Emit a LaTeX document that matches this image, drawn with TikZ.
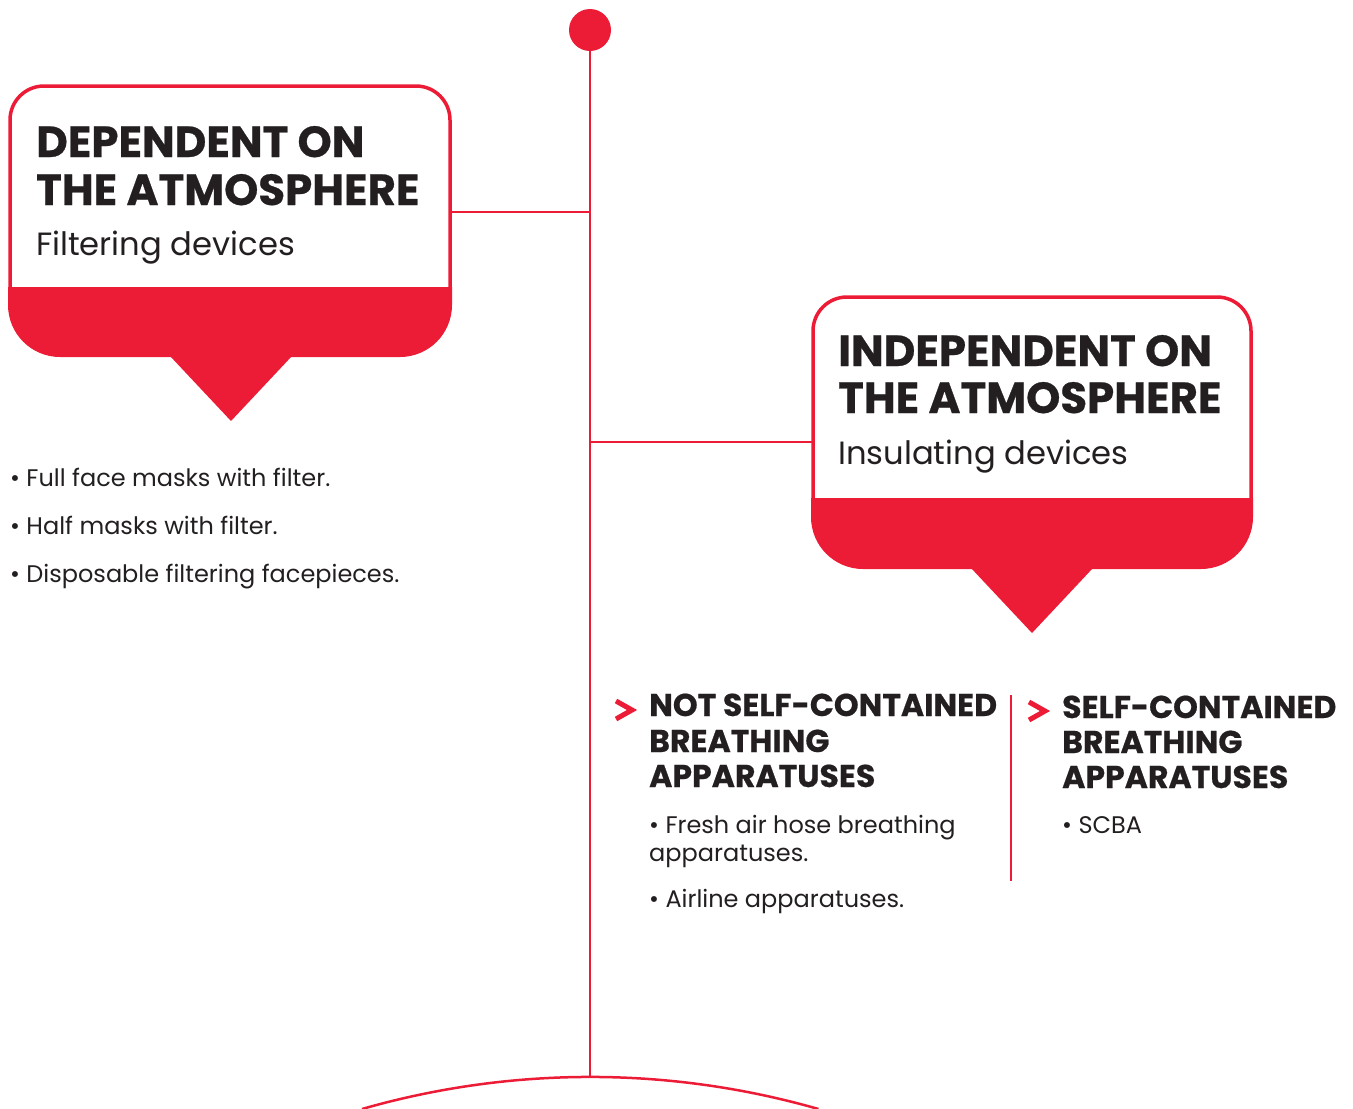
\documentclass[tikz,border=0pt]{standalone}
\usepackage{fontspec}
\setmainfont{Poppins}
\newfontfamily\heavyfont{Poppins}[FakeBold=0.6]
\definecolor{brand}{RGB}{237,28,54}
\definecolor{ink}{RGB}{35,31,32}

\begin{document}
\begin{tikzpicture}[x=1pt, y=-1pt]
		\tikzset{hd/.style={anchor=base west, inner sep=0, text=ink, font=\fontsize{43.5}{43.5}\heavyfont\bfseries}};
		\tikzset{sub/.style={anchor=base west, inner sep=0, text=ink, font=\fontsize{32.2}{32.2}\selectfont}};
		\tikzset{item/.style={anchor=base west, inner sep=0, text=ink, font=\fontsize{24}{24}\selectfont}};
		\tikzset{kind/.style={anchor=base west, inner sep=0, text=ink, font=\fontsize{31.5}{31.5}\heavyfont\bfseries}};
		\tikzset{wire/.style={draw=brand, line width=2.5pt}};
		\tikzset{rim/.style={draw=brand, line width=3.5pt, rounded corners=34pt}};

		\useasboundingbox (0,0) rectangle (1353,1109);

		\node[circle, fill=brand, minimum size=42pt, inner sep=0] (top) at (590,30) {};
		\coordinate (base) at (590,1077);
		\coordinate (j1) at (590,212);
		\coordinate (j2) at (590,442);
		\coordinate (b1) at (450,212);
		\coordinate (b2) at (813,442);
		\coordinate (arcl) at (362,1109);

		\draw[wire] (top) to (base);
		\draw[wire] (b1) to (j1);
		\draw[wire] (b2) to (j2);
		\draw[wire] (arcl) arc[start angle=-106, end angle=-74, radius=828];

		\draw[rim] (10,288) -- (10,86) -- (450,86) -- (450,288);
		\begin{scope}
			\clip (0,287) rectangle (460,400);
			\fill[brand, rounded corners=52pt] (8,150) rectangle (452,357);
		\end{scope}
		\fill[brand] (170,356) -- (292,356) -- (231,421) -- cycle;

		\draw[rim] (813,499) -- (813,297) -- (1251,297) -- (1251,499);
		\begin{scope}
			\clip (800,498) rectangle (1265,600);
			\fill[brand, rounded corners=52pt] (811,360) rectangle (1253,569);
		\end{scope}
		\fill[brand] (971,568) -- (1093,568) -- (1032,633) -- cycle;

		\node[hd] (dep1) at (36,157) {DEPENDENT ON};
		\node[hd] (dep2) at (36,205) {THE ATMOSPHERE};
		\node[sub] (dep3) at (36,255) {Filtering devices};

		\node[hd] (ind1) at (838,366) {INDEPENDENT ON};
		\node[hd] (ind2) at (838,413) {THE ATMOSPHERE};
		\node[sub] (ind3) at (838,464) {Insulating devices};

		\node[item] (f1) at (10,486) {• Full face masks with filter.};
		\node[item] (f2) at (10,534) {• Half masks with filter.};
		\node[item] (f3) at (10,582) {• Disposable filtering facepieces.};

		\draw[brand, line width=5pt] (616,701) -- (632,710) -- (616,719);
		\node[kind] (nsc1) at (649,716) {NOT SELF-CONTAINED};
		\node[kind] (nsc2) at (649,752) {BREATHING};
		\node[kind] (nsc3) at (649,787) {APPARATUSES};
		\node[item] (n1) at (649,833) {• Fresh air hose breathing};
		\node[item] (n2) at (649,861) {apparatuses.};
		\node[item] (n3) at (649,907) {• Airline apparatuses.};

		\coordinate (d1) at (1011,695);
		\coordinate (d2) at (1011,881);
		\draw[wire] (d1) to (d2);

		\draw[brand, line width=5pt] (1029,702) -- (1045,711) -- (1029,720);
		\node[kind] (sc1) at (1062,718) {SELF-CONTAINED};
		\node[kind] (sc2) at (1062,753) {BREATHING};
		\node[kind] (sc3) at (1062,788) {APPARATUSES};
		\node[item] (s1) at (1062,833) {• SCBA};

	\end{tikzpicture}
\end{document}
